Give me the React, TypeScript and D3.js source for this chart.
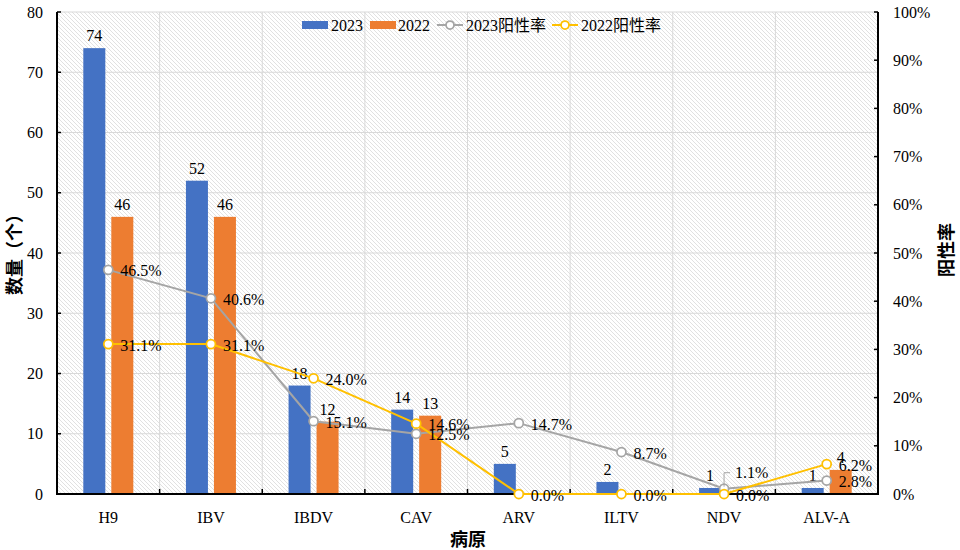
import React from "react";
import * as d3 from "d3";

const categories = ["H9", "IBV", "IBDV", "CAV", "ARV", "ILTV", "NDV", "ALV-A"];
const count2023 = [74, 52, 18, 14, 5, 2, 1, 1];
const count2022 = [46, 46, 12, 13, 0, 0, 0, 4];
const rate2023 = [46.5, 40.6, 15.1, 12.5, 14.7, 8.7, 1.1, 2.8];
const rate2022 = [31.1, 31.1, 24.0, 14.6, 0.0, 0.0, 0.0, 6.2];
const leftTicks = [0, 10, 20, 30, 40, 50, 60, 70, 80];
const rightTicks = [0, 10, 20, 30, 40, 50, 60, 70, 80, 90, 100];
const seriesNames = ["2023", "2022"];

const W = 960, H = 550;
const L = 57, R = 878, T = 12, B = 494;
const BLUE = "#4472c4", ORANGE = "#ed7d31", GRAY = "#a5a5a5", GOLD = "#ffc000";
const FONT = "'Liberation Serif', 'Times New Roman', serif";
const CJK = "'Liberation Serif', 'Noto Sans CJK SC', sans-serif";
const FS = 16;

export default function App() {
  const x = d3.scaleBand<string>().domain(categories).range([L, R]).padding(0);
  const inner = d3.scaleBand<string>().domain(seriesNames).range([-25, 25]).paddingInner(0.214).paddingOuter(0);
  const y = d3.scaleLinear().domain([0, 80]).range([B, T]);
  const y2 = d3.scaleLinear().domain([0, 100]).range([B, T]);
  const cx = (c: string) => (x(c) as number) + x.bandwidth() / 2;

  const line = d3.line<number>().x((_, i) => cx(categories[i])).y((d) => y2(d));

  const bars = [
    { name: "2023", data: count2023, color: BLUE },
    { name: "2022", data: count2022, color: ORANGE },
  ];
  const lines = [
    { name: "2023阳性率", data: rate2023, color: GRAY, key: "a" },
    { name: "2022阳性率", data: rate2022, color: GOLD, key: "b" },
  ];

  return (
    <svg width={W} height={H} style={{ position: "absolute", left: 0, top: 0, background: "#fff" }}>
      <defs>
        <pattern id="hatch" width={4} height={4} patternUnits="userSpaceOnUse">
          <rect width={4} height={4} fill="#fff" />
          <path d="M-1,-1 L5,5 M-1,3 L1,5 M3,-1 L5,1" stroke="#d4d4d4" strokeWidth={0.7} />
        </pattern>
      </defs>
      <rect x={L} y={T} width={R - L} height={B - T} fill="url(#hatch)" />
      {/* grid */}
      {leftTicks.map((t) => (
        <line key={"gh" + t} x1={L} x2={R} y1={y(t)} y2={y(t)} stroke="#d9d9d9" strokeWidth={1} />
      ))}
      {categories.slice(1).map((c) => (
        <line key={"gv" + c} x1={x(c)} x2={x(c)} y1={T} y2={B} stroke="#d9d9d9" strokeWidth={1} />
      ))}
      {/* bars */}
      {bars.map((s) =>
        s.data.map((v, i) => {
          const c = categories[i];
          const bx = cx(c) + (inner(s.name) as number);
          return (
            <g key={s.name + c}>
              <rect x={bx} y={y(v)} width={inner.bandwidth()} height={B - y(v)} fill={s.color} />
              {v > 0 && (
                <text x={bx + inner.bandwidth() / 2} y={y(v) - 7} textAnchor="middle" fontFamily={FONT} fontSize={FS} fill="#000">
                  {v}
                </text>
              )}
            </g>
          );
        })
      )}
      {/* axes */}
      <line x1={L} x2={L} y1={T} y2={B + 1} stroke="#000" strokeWidth={2} />
      <line x1={R} x2={R} y1={T} y2={B + 1} stroke="#000" strokeWidth={2} />
      {leftTicks.map((t) => (
        <g key={"lt" + t}>
          <line x1={L} x2={L + 4} y1={y(t)} y2={y(t)} stroke="#000" strokeWidth={1.5} />
          <text x={43} y={y(t)} textAnchor="end" dominantBaseline="central" fontFamily={FONT} fontSize={FS}>
            {t}
          </text>
        </g>
      ))}
      {rightTicks.map((t) => (
        <g key={"rt" + t}>
          <line x1={R - 4} x2={R} y1={y2(t)} y2={y2(t)} stroke="#000" strokeWidth={1.5} />
          <text x={893} y={y2(t)} textAnchor="start" dominantBaseline="central" fontFamily={FONT} fontSize={FS}>
            {t + "%"}
          </text>
        </g>
      ))}
      {categories.map((c) => (
        <g key={"xt" + c}>
          {c !== categories[0] && <line x1={x(c)} x2={x(c)} y1={B - 5} y2={B} stroke="#000" strokeWidth={1.5} />}
          <text x={cx(c)} y={517} textAnchor="middle" dominantBaseline="central" fontFamily={FONT} fontSize={FS}>
            {c}
          </text>
        </g>
      ))}
      <line x1={L - 1} x2={R + 1} y1={B} y2={B} stroke="#000" strokeWidth={2} />
      {/* lines */}
      {lines.map((s) => (
        <g key={"ln" + s.key}>
          <path d={line(s.data) || ""} fill="none" stroke={s.color} strokeWidth={2} />
          {s.data.map((v, i) => (
            <circle key={i} cx={cx(categories[i])} cy={y2(v)} r={4.5} fill="#fff" stroke={s.color} strokeWidth={1.75} />
          ))}
        </g>
      ))}
      {/* rate labels */}
      {lines.map((s) =>
        s.data.map((v, i) => {
          const px = cx(categories[i]);
          const py = y2(v);
          const lifted = s.key === "a" && categories[i] === "NDV";
          const ty = lifted ? py - 16 : py + 1;
          return (
            <g key={"lb" + s.key + i}>
              {lifted && <path d={`M${px},${py - 2} L${px},${ty} L${px + 6},${ty}`} fill="none" stroke="#a6a6a6" strokeWidth={1} />}
              <text x={px + (lifted ? 11 : 12)} y={ty} dominantBaseline="central" fontFamily={FONT} fontSize={FS} fill="#000">
                {v.toFixed(1) + "%"}
              </text>
            </g>
          );
        })
      )}
      {/* legend */}
      <g fontFamily={CJK} fontSize={FS}>
        <rect x={302} y={21} width={26} height={8} fill={BLUE} />
        <text x={331} y={25} dominantBaseline="central">{seriesNames[0]}</text>
        <rect x={370} y={21} width={26} height={8} fill={ORANGE} />
        <text x={398} y={25} dominantBaseline="central">{seriesNames[1]}</text>
        <line x1={437} x2={463} y1={25} y2={25} stroke={GRAY} strokeWidth={2} />
        <circle cx={450} cy={25} r={4} fill="#fff" stroke={GRAY} strokeWidth={1.75} />
        <text x={466} y={25} dominantBaseline="central">{lines[0].name}</text>
        <line x1={552} x2={578} y1={25} y2={25} stroke={GOLD} strokeWidth={2} />
        <circle cx={565} cy={25} r={4} fill="#fff" stroke={GOLD} strokeWidth={1.75} />
        <text x={581} y={25} dominantBaseline="central">{lines[1].name}</text>
      </g>
      {/* titles */}
      <text transform="translate(13,250) rotate(-90)" textAnchor="middle" dominantBaseline="central" fontFamily="'Noto Sans CJK SC', sans-serif" fontWeight="bold" fontSize={18}>
        数量（个）
      </text>
      <text transform="translate(945,250) rotate(-90)" textAnchor="middle" dominantBaseline="central" fontFamily="'Noto Sans CJK SC', sans-serif" fontWeight="bold" fontSize={18}>
        阳性率
      </text>
      <text x={468} y={538} textAnchor="middle" dominantBaseline="central" fontFamily="'Noto Sans CJK SC', sans-serif" fontWeight="bold" fontSize={18}>
        病原
      </text>
    </svg>
  );
}
